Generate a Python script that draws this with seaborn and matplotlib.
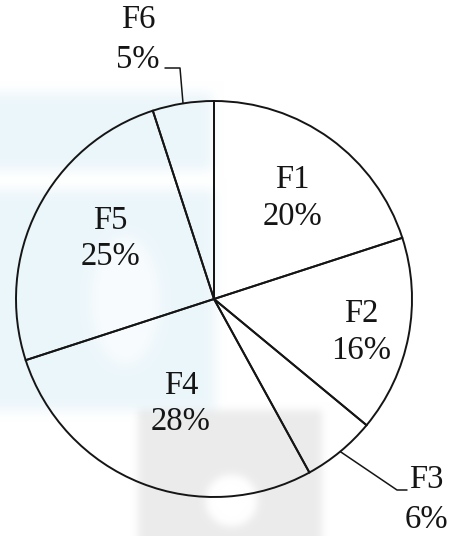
import numpy as np
import matplotlib
matplotlib.use("Agg")
import matplotlib.pyplot as plt
import seaborn as sns

# data
labels = ["F1", "F2", "F3", "F4", "F5", "F6"]
shares = [20, 16, 6, 28, 25, 5]

sns.set_theme(style="white")
plt.rcParams["font.family"] = ["Liberation Serif", "DejaVu Serif"]

W, H = 450, 536
fig = plt.figure(figsize=(W / 100, H / 100), dpi=100)
ax = fig.add_axes([0, 0, 1, 1])

cx, cy, R = 214, H - 299, 198
ink = "#151515"


def soft(a, k=13):
    # box blur (edge padded), run twice, for the fuzzy scanned watermark
    ker = np.ones(k) / k
    p = k // 2
    for _ in range(2):
        a = np.pad(a, p, mode="edge")
        a = np.apply_along_axis(lambda r: np.convolve(r, ker, mode="valid"), 0, a)
        a = np.apply_along_axis(lambda r: np.convolve(r, ker, mode="valid"), 1, a)
    return a


# faint watermark behind the chart (pixel rows from the top)
yy, xx = np.mgrid[0:H, 0:W]
blue = np.zeros((H, W))
blue[93:170, 0:212] = 1
blue[190:410, 0:215] = 1
blue[((xx - 125) / 35) ** 2 + ((yy - 300) / 65) ** 2 < 1] = 0.4
grey = np.zeros((H, W))
grey[410:H, 138:322] = 1
grey[((xx - 231) / 26) ** 2 + ((yy - 500) / 26) ** 2 < 1] = 0
blue, grey = soft(blue), soft(grey, 9)
img = np.ones((H, W, 3))
img -= blue[..., None] * (1 - np.array([0.925, 0.965, 0.985]))
img -= grey[..., None] * (1 - np.array([0.925, 0.925, 0.925]))
ax.imshow(np.clip(img, 0, 1), extent=(0, W, 0, H), zorder=0, interpolation="bilinear")

wedges, _ = ax.pie(
    shares, startangle=90, counterclock=False, center=(cx, cy), radius=R,
    wedgeprops=dict(facecolor="none", edgecolor=ink, linewidth=1.4),
)

# label placement: (radius in px, angle in deg) from the pie centre
inner = {"F1": (128, 52), "F2": (151, -12.7), "F4": (110, -107.5), "F5": (120, 150)}
fs = 23.5
for lab, s in zip(labels, shares):
    if lab in inner:
        r, ang = inner[lab]
        t = np.deg2rad(ang)
        ax.text(cx + r * np.cos(t), cy + r * np.sin(t), f"{lab}\n{s}%", ha="center",
                va="center", fontsize=fs, linespacing=1.25, color=ink)

# outside labels with leader lines
a3 = np.deg2rad((wedges[2].theta1 + wedges[2].theta2) / 2)
p3 = (cx + R * np.cos(a3), cy + R * np.sin(a3))
ax.plot([p3[0], 397, 407], [p3[1], H - 490, H - 490], color=ink, lw=1.1)
ax.text(426, H - 480, labels[2], ha="center", va="center", fontsize=fs, color=ink)
ax.text(426, H - 520, f"{shares[2]}%", ha="center", va="center", fontsize=fs, color=ink)

a6 = np.deg2rad((wedges[5].theta1 + wedges[5].theta2) / 2)
p6 = (cx + R * np.cos(a6), cy + R * np.sin(a6))
ax.plot([p6[0], 180, 165], [p6[1], H - 68, H - 68], color=ink, lw=1.1)
ax.text(138, H - 20, labels[5], ha="center", va="center", fontsize=fs, color=ink)
ax.text(138, H - 60, f"{shares[5]}%", ha="center", va="center", fontsize=fs, color=ink)

ax.set_xlim(0, W)
ax.set_ylim(0, H)
ax.set_aspect("equal")
ax.axis("off")

fig.savefig("out.png", dpi=100, facecolor="white")
